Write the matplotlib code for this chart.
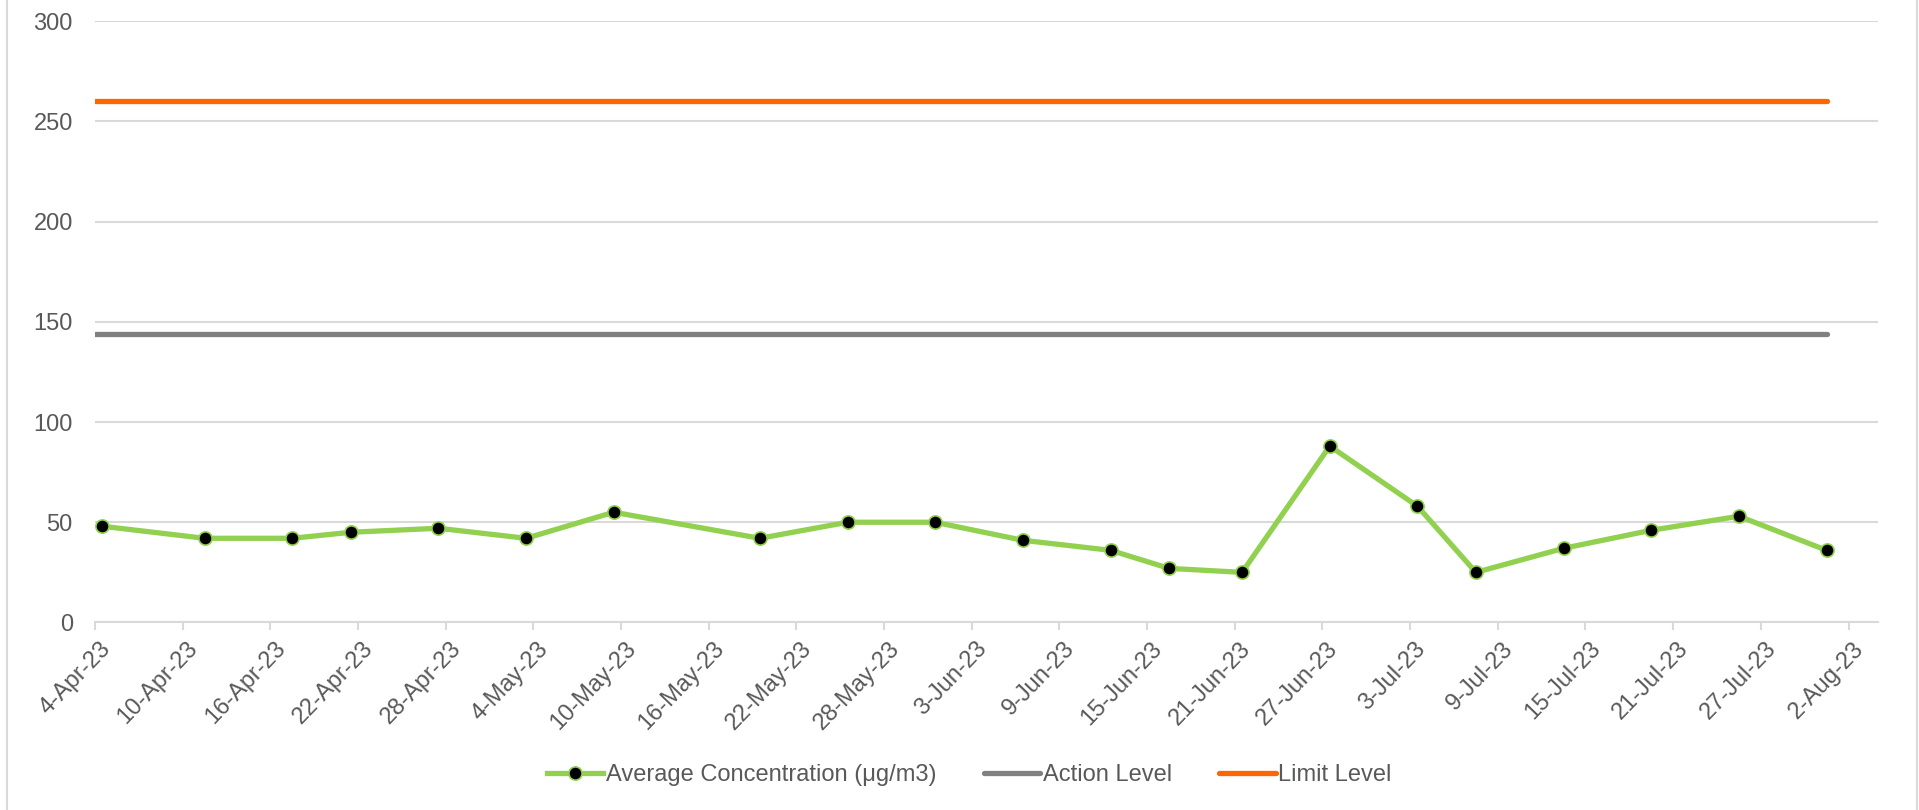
import pandas as pd
import matplotlib
matplotlib.use("Agg")
import matplotlib.pyplot as plt
import matplotlib.dates as mdates
from matplotlib.lines import Line2D
from matplotlib.transforms import ScaledTranslation

plt.rcParams['font.family'] = ['Liberation Sans', 'DejaVu Sans']

# =========================
# Data
# =========================
sample_dates = ['2023-04-04', '2023-04-11', '2023-04-17', '2023-04-21', '2023-04-27',
                '2023-05-03', '2023-05-09', '2023-05-19', '2023-05-25', '2023-05-31',
                '2023-06-06', '2023-06-12', '2023-06-16', '2023-06-21', '2023-06-27',
                '2023-07-03', '2023-07-07', '2023-07-13', '2023-07-19', '2023-07-25',
                '2023-07-31']
avg_conc = [48, 42, 42, 45, 47, 42, 55, 42, 50, 50, 41, 36, 27, 25, 88, 58, 25, 37, 46, 53, 36]
action_level = 144
limit_level = 260

series_names = ['Average Concentration (μg/m3)', 'Action Level', 'Limit Level']

axis_start = pd.Timestamp('2023-04-04')
axis_end = pd.Timestamp('2023-08-04')

dates = pd.to_datetime(sample_dates)
# points sit in the middle of each day slot
x_pts = dates + pd.Timedelta(hours=12)

GREEN = '#92d050'
GREY = '#808080'
ORANGE = '#ff6600'
TXT = '#595959'
GRID = '#d9d9d9'
FS = 17

fig = plt.figure(figsize=(19.19, 8.10), dpi=100)
ax = fig.add_axes([0.0495, 0.2315, 0.929, 0.7425])

# level lines run from the axis start to the last sample
ax.plot([axis_start, x_pts[-1]], [limit_level, limit_level], color=ORANGE, lw=3.8,
        solid_capstyle='round', zorder=3, label=series_names[2])
ax.plot([axis_start, x_pts[-1]], [action_level, action_level], color=GREY, lw=3.8,
        solid_capstyle='round', zorder=3, label=series_names[1])
ax.plot(x_pts, avg_conc, color=GREEN, lw=3.8, marker='o', markersize=9.5,
        markerfacecolor='black', markeredgecolor=GREEN, markeredgewidth=1.2,
        zorder=4, label=series_names[0])

ax.set_xlim(axis_start, axis_end)
ax.set_ylim(0, 300)
ax.set_yticks(range(0, 301, 50))
ax.grid(axis='y', color=GRID, lw=1.5)
ax.set_axisbelow(True)

for s in ['top', 'right', 'left']:
    ax.spines[s].set_visible(False)
ax.spines['bottom'].set_color(GRID)
ax.spines['bottom'].set_linewidth(1.5)

tick_dates = pd.date_range(axis_start, periods=21, freq='6D')
ax.set_xticks(tick_dates)
ax.xaxis.set_major_formatter(plt.FuncFormatter(
    lambda v, p: mdates.num2date(v).strftime('%d-%b-%y').lstrip('0')))

ax.tick_params(axis='y', length=0, pad=16, labelsize=FS, labelcolor=TXT)
ax.tick_params(axis='x', length=6, width=1.5, color=GRID, pad=5, labelsize=FS,
               labelcolor=TXT)
offset = ScaledTranslation(4 / 100, 0, fig.dpi_scale_trans)
for lbl in ax.get_xticklabels():
    lbl.set_rotation(46)
    lbl.set_ha('right')
    lbl.set_va('top')
    lbl.set_rotation_mode('anchor')
    lbl.set_transform(lbl.get_transform() + offset)

handles, labels = ax.get_legend_handles_labels()
order = [2, 1, 0]
leg = fig.legend([handles[i] for i in order], [labels[i] for i in order],
                 loc='center', bbox_to_anchor=(0.505, 0.043), ncol=3, frameon=False,
                 fontsize=FS, handlelength=2.4, handletextpad=0.1, columnspacing=2.0)
for t in leg.get_texts():
    t.set_color(TXT)

# chart area side borders
for xb in (7 / 1919, 1917 / 1919):
    fig.add_artist(Line2D([xb, xb], [0, 1], color=GRID, lw=1.5, transform=fig.transFigure))

plt.savefig('out.png', dpi=100)
